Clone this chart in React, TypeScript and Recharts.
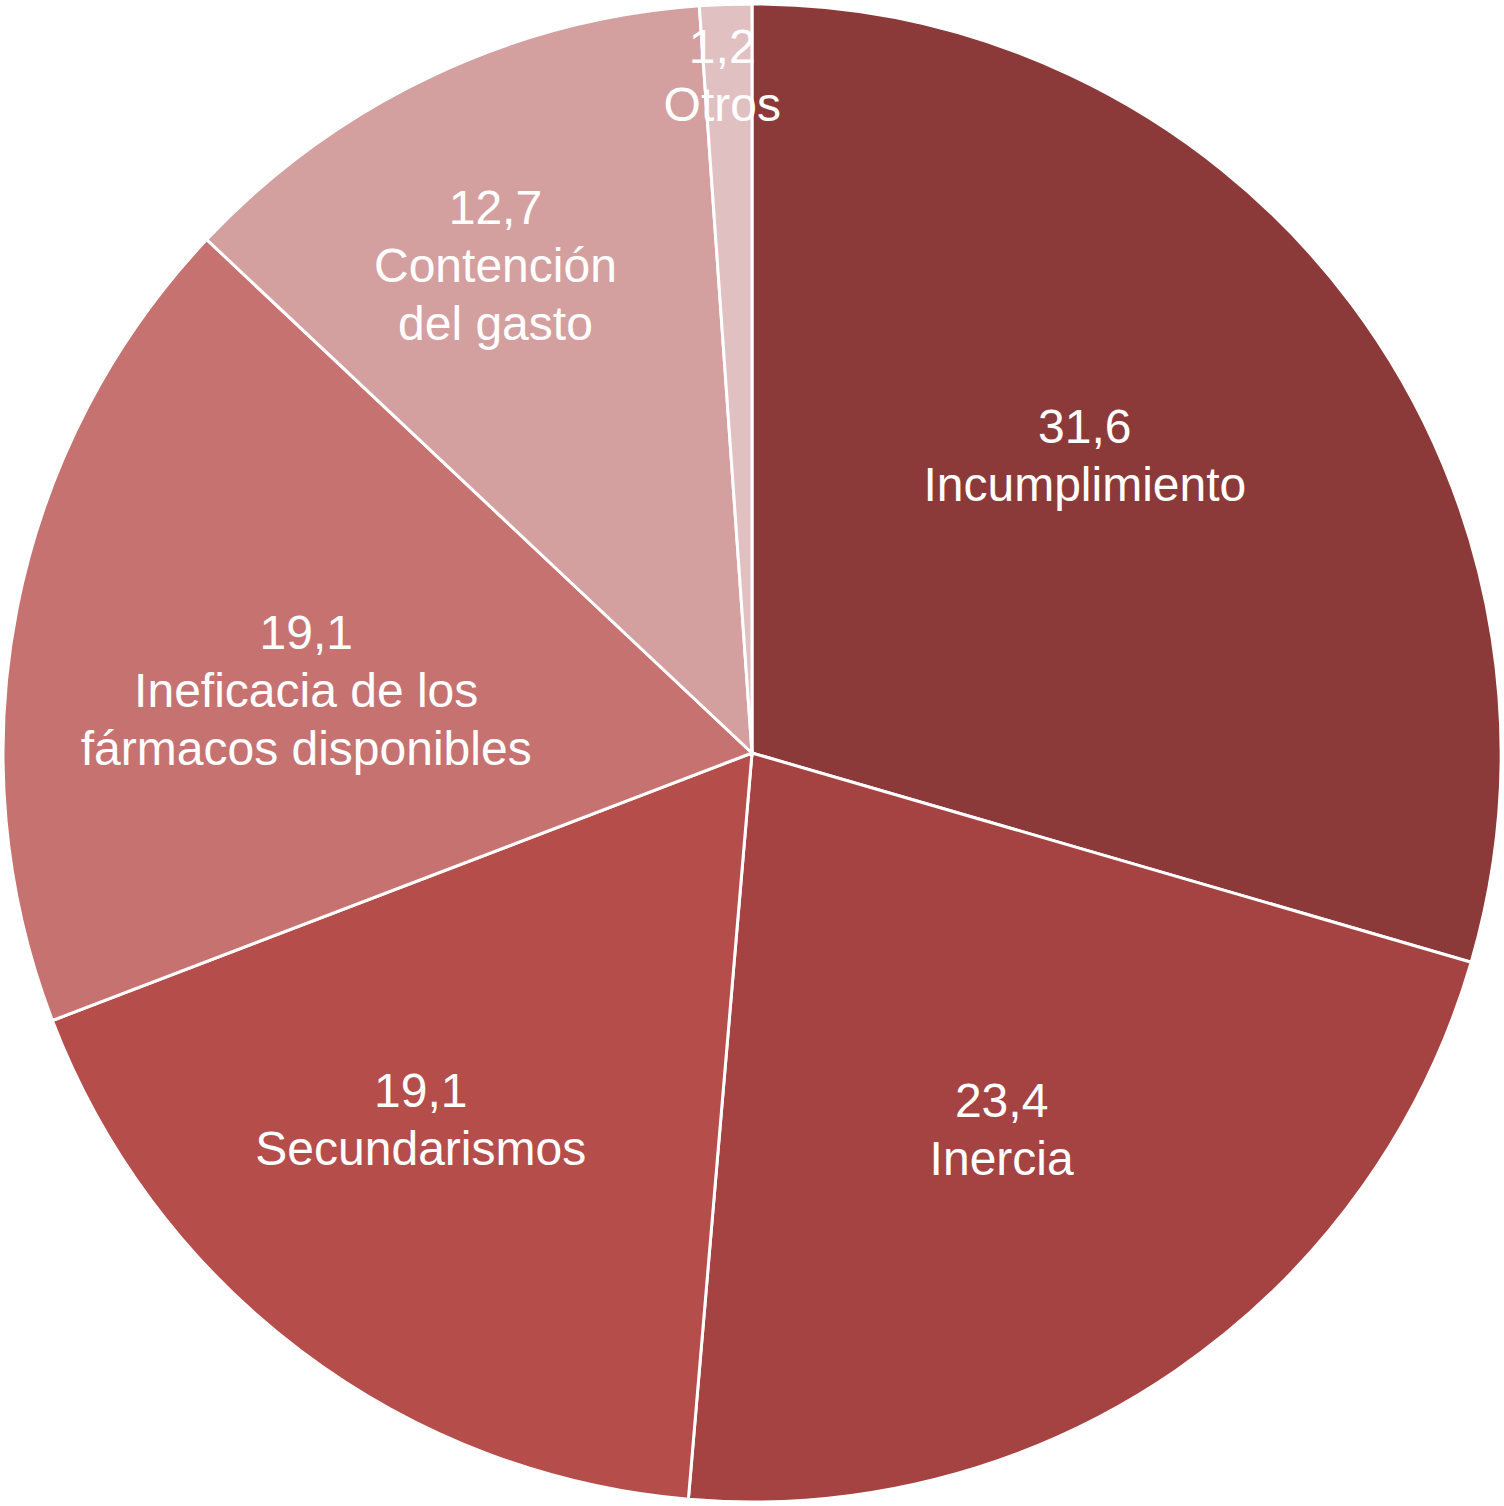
import React from "react";
import { PieChart, Pie, Cell } from "recharts";

const names = [
  "Incumplimiento",
  "Inercia",
  "Secundarismos",
  "Ineficacia de los\nfármacos disponibles",
  "Contención\ndel gasto",
  "Otros",
];
const values = [31.6, 23.4, 19.1, 19.1, 12.7, 1.2];
const colors = ["#8c3a39", "#a44342", "#b54d4b", "#c67271", "#d49f9f", "#e1c0c2"];

// label placement tweaks: radius fraction and angle shift (deg, clockwise)
const labelRadius = [0.596, 0.603, 0.66, 0.601, 0.735, 0.905];
const labelShift = [-4.9, 0.9, 5.1, -3.2, -2.4, -0.5];

const data = names.map((name, i) => ({ name, value: values[i] }));

const RAD = Math.PI / 180;

const renderLabel = (props: any) => {
  const { cx, cy, midAngle, outerRadius, index, value, name } = props;
  const ang = (midAngle - labelShift[index]) * RAD;
  const r = outerRadius * labelRadius[index];
  const x = cx + r * Math.cos(-ang);
  const y = cy + r * Math.sin(-ang);
  const lines = [String(value).replace(".", ","), ...String(name).split("\n")];
  const lh = 58;
  const top = y - ((lines.length - 1) * lh) / 2;
  return (
    <text
      x={x}
      y={top}
      fill="#ffffff"
      textAnchor="middle"
      fontSize={48}
      fontFamily="'Liberation Sans', Arial, sans-serif"
    >
      {lines.map((l, k) => (
        <tspan key={k} x={x} y={top + k * lh} dominantBaseline="central">
          {l}
        </tspan>
      ))}
    </text>
  );
};

export default function App() {
  return (
    <div style={{ position: "absolute", left: 0, top: 0, background: "#fff" }}>
      <PieChart width={1504} height={1506} margin={{ top: 0, right: 0, bottom: 0, left: 0 }}>
        <Pie
          data={data}
          dataKey="value"
          nameKey="name"
          cx={752}
          cy={753}
          outerRadius={749}
          startAngle={90}
          endAngle={-270}
          stroke="#ffffff"
          strokeWidth={3}
          label={renderLabel}
          labelLine={false}
          isAnimationActive={false}
        >
          {data.map((d, i) => (
            <Cell key={d.name} fill={colors[i]} />
          ))}
        </Pie>
      </PieChart>
    </div>
  );
}
